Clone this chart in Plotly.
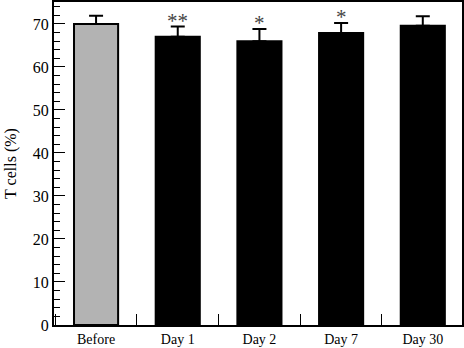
import plotly.graph_objects as go

categories = ["Before", "Day 1", "Day 2", "Day 7", "Day 30"]
values = [70.0, 67.0, 66.0, 67.9, 69.6]
errors = [1.9, 2.4, 2.8, 2.3, 2.2]
colors = ["#b3b3b3", "#000000", "#000000", "#000000", "#000000"]
marks = ["", "**", "*", "*", ""]

FONT = "Liberation Serif, Times New Roman, serif"

fig = go.Figure()
fig.add_trace(go.Bar(
    x=categories, y=values, width=0.54,
    marker=dict(color=colors, line=dict(color="black", width=2)),
    error_y=dict(type="data", symmetric=False, array=errors,
                 arrayminus=[0] * len(errors), color="black",
                 thickness=2, width=7),
    showlegend=False,
    hoverinfo="skip",
))

for c, v, e, m in zip(categories, values, errors, marks):
    if m:
        fig.add_annotation(x=c, y=v + e, text=m, showarrow=False,
                           yanchor="bottom", yshift=-8,
                           font=dict(family=FONT, size=21, color="#444444"))

fig.update_layout(
    width=464, height=348,
    margin=dict(l=54, r=2, t=2, b=23, autoexpand=False),
    paper_bgcolor="white", plot_bgcolor="white",
    font=dict(family=FONT, size=14, color="black"),
    bargap=0.46,
)
fig.update_xaxes(
    type="category", range=[-0.515, 4.48],
    showline=True, linecolor="black", linewidth=2, mirror=True,
    ticks="inside", tickson="boundaries", ticklen=11, tickwidth=1,
    tickcolor="black", showgrid=False, automargin=False,
    tickfont=dict(family=FONT, size=14),
)
fig.update_yaxes(
    range=[0, 75.1], tickvals=[0, 10, 20, 30, 40, 50, 60, 70],
    showline=True, linecolor="black", linewidth=2, mirror=True,
    ticks="inside", ticklen=11, tickwidth=1, tickcolor="black",
    minor=dict(tickvals=[v for v in range(2, 75, 2) if v % 10], ticks="inside",
               ticklen=6, tickwidth=1, tickcolor="black"),
    showgrid=False, zeroline=False, automargin=False,
    tickfont=dict(family=FONT, size=16),
    title=dict(text="T cells (%)", font=dict(family=FONT, size=16), standoff=12),
)

fig.write_html("out.html", config={"displayModeBar": False},
               post_script="document.body.style.margin='0';")
